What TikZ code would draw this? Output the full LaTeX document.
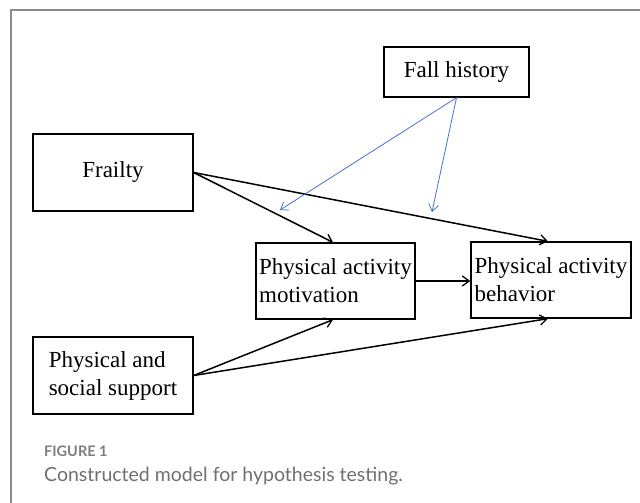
\documentclass[tikz,border=0pt]{standalone}
\usepackage{fontspec}
\setmainfont{Liberation Serif}
\newfontfamily\capfont{Lato}
\usetikzlibrary{arrows.meta,calc}
\definecolor{framegray}{RGB}{140,140,140}
\definecolor{capgray}{RGB}{112,112,112}
\definecolor{figgray}{RGB}{125,125,125}
\definecolor{fallblue}{RGB}{68,114,210}
\tikzset{
  varbox/.style={draw=black, line width=1.3pt, rectangle, inner sep=0pt,
    font=\fontsize{23}{28}\selectfont},
  patharrow/.style={line width=1.5pt, -{Straight Barb[length=7pt,width=10pt,line width=1.3pt]}},
  modarrow/.style={draw=fallblue, line width=0.8pt, -{Straight Barb[length=7pt,width=10pt,line width=0.8pt]}},
  framestyle/.style={draw=framegray, line width=2pt},
}
\begin{document}
\begin{tikzpicture}[x=1pt,y=-1pt]
\useasboundingbox (0,0) rectangle (640,503);
\draw[framestyle] (11,510) -- (11,10) -- (650,10);

\node[varbox, minimum width=145pt, minimum height=50pt] (fall) at (456.5,72) {Fall history};
\node[varbox, minimum width=160pt, minimum height=77pt] (frail) at (113,172.5) {Frailty};
\node[varbox, minimum width=159pt, minimum height=76pt, align=left] (mot) at (335.5,281) {Physical activity\\motivation};
\node[varbox, minimum width=160pt, minimum height=76pt, align=left] (beh) at (551,280) {Physical activity\\behavior};
\node[varbox, minimum width=160pt, minimum height=77pt, align=left] (sup) at (113,375.5) {Physical and\\social support};

\coordinate (modA) at (280,210);
\coordinate (modB) at (432,212);

\draw[patharrow] (frail.east) -- ([xshift=-2.5pt]mot.north);
\draw[patharrow] (frail.east) -- ([xshift=-3pt]beh.north);
\draw[patharrow] (mot.east) -- (beh.west |- mot.east);
\draw[patharrow] (sup.east) -- ([xshift=-2.5pt]mot.south);
\draw[patharrow] (sup.east) -- ([xshift=-3pt]beh.south);

\draw[modarrow] (fall.south) -- (modA);
\draw[modarrow] (fall.south) -- (modB);

\node[anchor=base west, inner sep=0pt, text=figgray, font=\capfont\bfseries\fontsize{14.5}{16}\selectfont] (figlabel) at (44,456) {FIGURE 1};
\node[anchor=base west, inner sep=0pt, text=capgray, font=\capfont\fontsize{19.5}{22}\selectfont] (caption) at (44,481) {Constructed model for hypothesis testing.};
\end{tikzpicture}
\end{document}
